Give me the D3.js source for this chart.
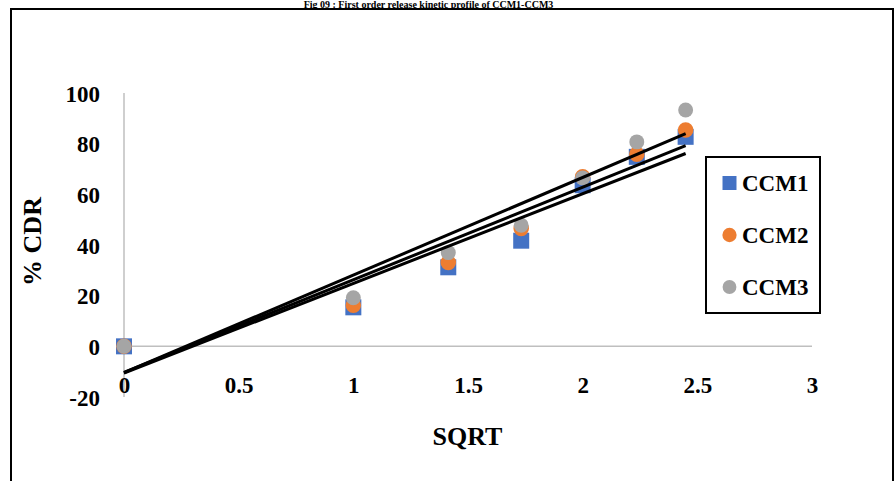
<!DOCTYPE html>
<html>
<head>
<meta charset="utf-8">
<script src="https://cdn.jsdelivr.net/npm/d3@7"></script>
<style>
  html, body { margin: 0; padding: 0; background: #fff; }
  svg { display: block; }
  text { font-family: "Liberation Serif", "Times New Roman", serif; font-weight: bold; fill: #000; }
</style>
</head>
<body>
<svg id="chart" width="896" height="481"></svg>
<script>
const title = "Fig 09 : First order release kinetic profile of CCM1-CCM3";
const xValues = [0, 1, 1.414, 1.732, 2, 2.236, 2.449];
const ccm1 = [0, 15.4, 31.2, 41.7, 63.6, 74.8, 82.7];
const ccm2 = [0, 16.2, 33.1, 46.5, 66.9, 75.8, 85.4];
const ccm3 = [0, 19.2, 37.0, 47.8, 66.5, 80.7, 93.3];
const seriesNames = ["CCM1", "CCM2", "CCM3"];
const seriesColors = ["#4472C4", "#ED7D31", "#A5A5A5"];
const xTicks = [0, 0.5, 1, 1.5, 2, 2.5, 3];
const yTicks = [-20, 0, 20, 40, 60, 80, 100];
const xTitle = "SQRT";
const yTitle = "% CDR";

const series = [ccm1, ccm2, ccm3].map((vals, i) => ({
  name: seriesNames[i], color: seriesColors[i],
  pts: vals.map((v, j) => ({ x: xValues[j], y: v }))
}));

const svg = d3.select("#chart");

// outer frame
svg.append("rect").attr("x", 11).attr("y", 9).attr("width", 882).attr("height", 520)
  .attr("fill", "none").attr("stroke", "#000").attr("stroke-width", 2);

// title (small, fully visible above the frame)
svg.append("text").attr("x", 428.5).attr("y", 7.5).attr("text-anchor", "middle")
  .style("font-size", "10px").text(title);

const x = d3.scaleLinear().domain([0, 3]).range([124, 812]);
const y = d3.scaleLinear().domain([-20, 100]).range([397, 93]);
const fmt = d => String(d);

// axis lines (gray)
svg.append("line").attr("x1", x(0)).attr("x2", x(0)).attr("y1", y(100)).attr("y2", y(-20))
  .attr("stroke", "#BFBFBF").attr("stroke-width", 1.5);
svg.append("line").attr("x1", x(0)).attr("x2", x(3)).attr("y1", y(0)).attr("y2", y(0))
  .attr("stroke", "#BFBFBF").attr("stroke-width", 1.5);

// y tick labels
const yAxis = d3.axisLeft(y).tickValues(yTicks).tickSize(0).tickPadding(0).tickFormat(fmt);
const gy = svg.append("g").attr("transform", "translate(100,0)").call(yAxis)
  .attr("font-family", null).attr("font-size", null);
gy.select(".domain").remove();
gy.selectAll("text").attr("x", 0).attr("dy", "0.35em")
  .style("font-size", "23px").style("font-family", "'Liberation Serif', serif").style("font-weight", "bold")
  .attr("fill", "#000");

// x tick labels
const xAxis = d3.axisBottom(x).tickValues(xTicks).tickSize(0).tickPadding(0).tickFormat(fmt);
const gx = svg.append("g").attr("transform", "translate(0,377)").call(xAxis)
  .attr("font-family", null).attr("font-size", null);
gx.select(".domain").remove();
gx.selectAll("text").attr("y", 0).attr("dy", "0.71em")
  .style("font-size", "23px").style("font-family", "'Liberation Serif', serif").style("font-weight", "bold")
  .attr("fill", "#000");

// markers
const sym = [d3.symbolSquare, d3.symbolCircle, d3.symbolCircle];
const sizes = [256, 190, 175];
series.forEach((s, i) => {
  svg.append("g").selectAll("path").data(s.pts).join("path")
    .attr("transform", d => `translate(${x(d.x)},${y(d.y)})`)
    .attr("d", d3.symbol().type(sym[i]).size(sizes[i]))
    .attr("fill", s.color);
});

// linear trend lines (least squares from data)
function fit(pts) {
  const mx = d3.mean(pts, d => d.x), my = d3.mean(pts, d => d.y);
  const sxy = d3.sum(pts, d => (d.x - mx) * (d.y - my));
  const sxx = d3.sum(pts, d => (d.x - mx) ** 2);
  const b = sxy / sxx, a = my - b * mx;
  return [a, b];
}
const line = d3.line().x(d => x(d.x)).y(d => y(d.y));
series.forEach(s => {
  const [a, b] = fit(s.pts);
  const x0 = d3.min(xValues), x1 = d3.max(xValues);
  svg.append("path").attr("d", line([{ x: x0, y: a + b * x0 }, { x: x1, y: a + b * x1 }]))
    .attr("stroke", "#000").attr("stroke-width", 3).attr("fill", "none");
});

// axis titles
svg.append("text").attr("transform", "translate(41,241.5) rotate(-90)").attr("text-anchor", "middle")
  .style("font-size", "26px").text(yTitle);
svg.append("text").attr("x", 467.5).attr("y", 445).attr("text-anchor", "middle")
  .style("font-size", "26px").text(xTitle);

// legend
svg.append("rect").attr("x", 706).attr("y", 157).attr("width", 114).attr("height", 156)
  .attr("fill", "#fff").attr("stroke", "#000").attr("stroke-width", 2);
const legY = [183, 235, 287];
const legSym = [d3.symbolSquare, d3.symbolCircle, d3.symbolCircle];
const legSizes = [196, 160, 150];
series.forEach((s, i) => {
  svg.append("path").attr("transform", `translate(729.5,${legY[i]})`)
    .attr("d", d3.symbol().type(legSym[i]).size(legSizes[i])).attr("fill", s.color);
  svg.append("text").attr("x", 742).attr("y", legY[i]).attr("dy", "0.35em")
    .style("font-size", "23px").text(s.name);
});
</script>
</body>
</html>
